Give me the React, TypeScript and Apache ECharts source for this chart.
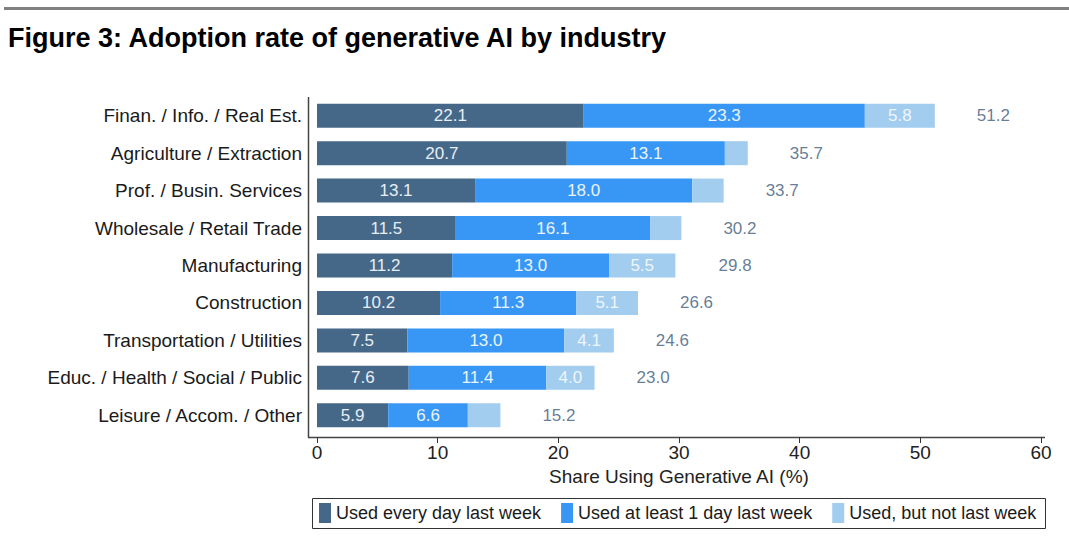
import React, { useEffect, useRef } from "react";
import * as echarts from "echarts";

const categories = [
  "Finan. / Info. / Real Est.",
  "Agriculture / Extraction",
  "Prof. / Busin. Services",
  "Wholesale / Retail Trade",
  "Manufacturing",
  "Construction",
  "Transportation / Utilities",
  "Educ. / Health / Social / Public",
  "Leisure / Accom. / Other",
];
const usedEveryDay = [22.1, 20.7, 13.1, 11.5, 11.2, 10.2, 7.5, 7.6, 5.9];
const usedAtLeastOneDay = [23.3, 13.1, 18.0, 16.1, 13.0, 11.3, 13.0, 11.4, 6.6];
const usedNotLastWeek = [5.8, 1.9, 2.6, 2.6, 5.5, 5.1, 4.1, 4.0, 2.7];
const totals = [51.2, 35.7, 33.7, 30.2, 29.8, 26.6, 24.6, 23.0, 15.2];
const seriesNames = [
  "Used every day last week",
  "Used at least 1 day last week",
  "Used, but not last week",
];
const xMin = 0;
const xMax = 60;
const xInterval = 10;

const FONT = "Liberation Sans, Arial, sans-serif";

export default function App() {
  const ref = useRef<HTMLDivElement>(null);
  useEffect(() => {
    document.body.style.margin = "0";
    const chart = echarts.init(ref.current!, null, { renderer: "svg" });
    const insideLabel = (color: string, minShow: number) => ({
      show: true,
      position: "inside",
      color,
      fontSize: 17,
      fontFamily: FONT,
      formatter: (p: any) => (p.value >= minShow ? Number(p.value).toFixed(1) : ""),
    });
    chart.setOption({
      animation: false,
      textStyle: { fontFamily: FONT },
      grid: { left: 317, right: 28, top: 97, bottom: 107 },
      title: {
        text: "Figure 3: Adoption rate of generative AI by industry",
        left: 3,
        top: 19,
        textStyle: { fontFamily: FONT, fontWeight: "bold", fontSize: 27, color: "#000" },
      },
      legend: {
        left: 319,
        top: 503,
        padding: 0,
        itemWidth: 12,
        itemHeight: 20,
        itemGap: 20,
        icon: "rect",
        data: seriesNames,
        textStyle: { fontFamily: FONT, fontSize: 18, color: "#1a1a1a" },
      },
      xAxis: {
        type: "value",
        min: xMin,
        max: xMax,
        interval: xInterval,
        offset: 3,
        axisLine: { show: false },
        axisTick: { show: true, length: 6, lineStyle: { color: "#333" } },
        splitLine: { show: false },
        axisLabel: { fontSize: 19, color: "#222", margin: 6, fontFamily: FONT },
        name: "Share Using Generative AI (%)",
        nameLocation: "middle",
        nameGap: 27,
        nameTextStyle: { fontSize: 19, color: "#222", fontFamily: FONT },
      },
      yAxis: {
        type: "category",
        data: categories,
        inverse: true,
        axisLine: { show: false },
        axisTick: { show: false },
        axisLabel: { fontSize: 19, color: "#1a1a1a", margin: 15, fontFamily: FONT },
      },
      series: [
        {
          name: seriesNames[0],
          type: "bar",
          stack: "s",
          barWidth: 24,
          data: usedEveryDay,
          itemStyle: { color: "#456888" },
          label: insideLabel("#e8eef4", 0),
        },
        {
          name: seriesNames[1],
          type: "bar",
          stack: "s",
          barWidth: 24,
          data: usedAtLeastOneDay,
          itemStyle: { color: "#3897f5" },
          label: insideLabel("#eaf4ff", 0),
        },
        {
          name: seriesNames[2],
          type: "bar",
          stack: "s",
          barWidth: 24,
          data: usedNotLastWeek,
          itemStyle: { color: "#a2cdef" },
          label: insideLabel("#eef6fd", 4),
        },
        {
          name: "total",
          type: "scatter",
          symbolSize: 0,
          data: totals.map((t, i) => [t, categories[i]]),
          label: {
            show: true,
            position: "right",
            distance: 42,
            color: "#3d5a7a",
            fontSize: 17,
            fontFamily: FONT,
            formatter: (p: any) => Number(p.value[0]).toFixed(1),
          },
          silent: true,
        },
      ],
      graphic: [
        { type: "rect", shape: { x: 4, y: 7, width: 1065, height: 3 }, style: { fill: "#808080" } },
        { type: "line", shape: { x1: 308.5, y1: 97, x2: 308.5, y2: 437.5 }, style: { stroke: "#444", lineWidth: 1.5 } },
        { type: "line", shape: { x1: 308, y1: 437.5, x2: 1045, y2: 437.5 }, style: { stroke: "#444", lineWidth: 1.5 } },
        {
          type: "rect",
          shape: { x: 312.5, y: 498.5, width: 733, height: 30 },
          style: { fill: "none", stroke: "#333", lineWidth: 1 },
        },
      ],
    });
    return () => chart.dispose();
  }, []);
  return <div ref={ref} style={{ width: 1069, height: 541 }} />;
}
